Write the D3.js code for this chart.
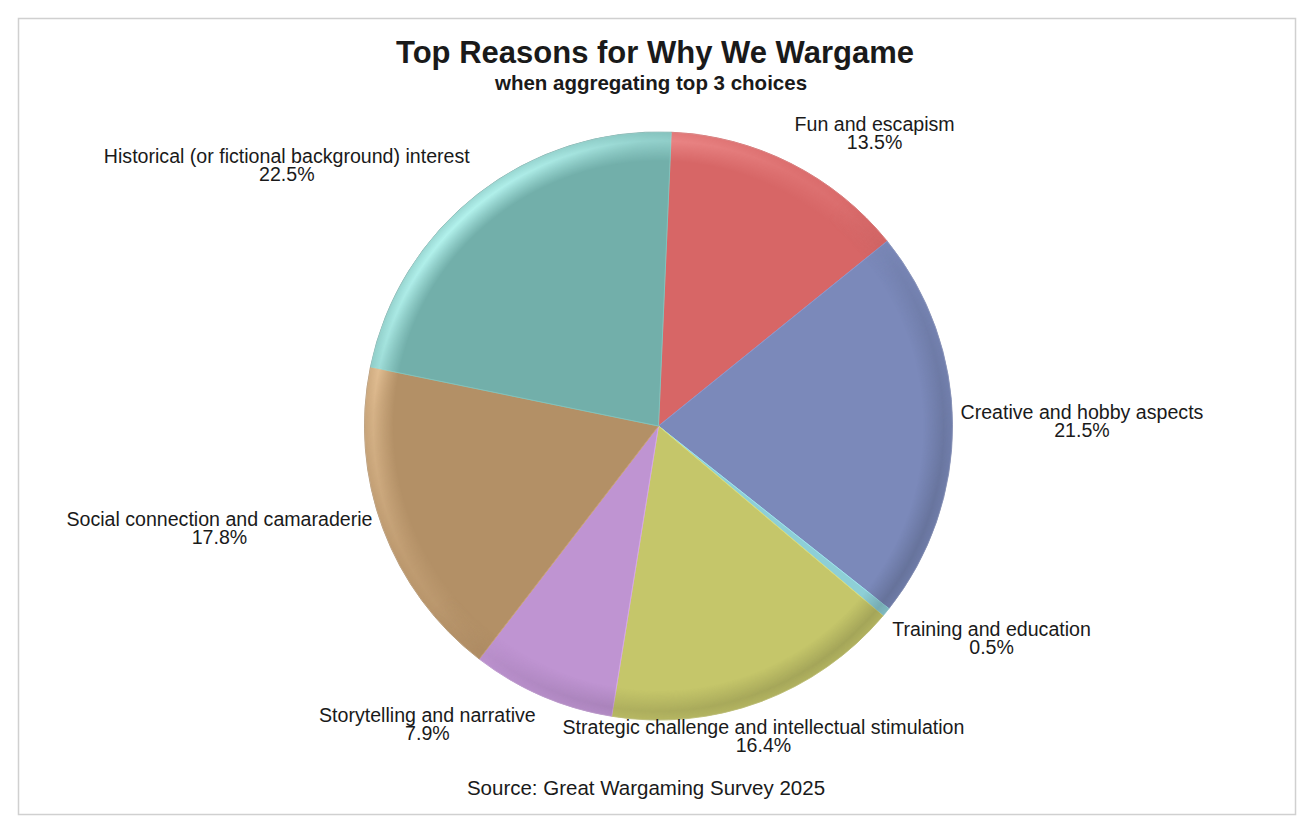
<!DOCTYPE html>
<html>
<head>
<meta charset="utf-8">
<script src="https://cdn.jsdelivr.net/npm/d3@7"></script>
<style>
  body { margin: 0; background: #fff; }
  text { font-family: "Liberation Sans", Arial, sans-serif; fill: #1a1a1a; }
</style>
</head>
<body>
<div id="chart"></div>
<script>
const categories = [
    "Fun and escapism",
    "Creative and hobby aspects",
    "Training and education",
    "Strategic challenge and intellectual stimulation",
    "Storytelling and narrative",
    "Social connection and camaraderie",
    "Historical (or fictional background) interest"
];
const percents = [13.5, 21.5, 0.5, 16.4, 7.9, 17.8, 22.5];
const sliceColors = ["#D76666", "#7B89BA", "#8ECFD6", "#C5C66A", "#BF94D2", "#B39066", "#72AFAA"];

const width = 1299, height = 817;
const cx = 658.5, cy = 426, radius = 294;
const startOffset = 2.5 * Math.PI / 180;

const svg = d3.select("#chart")
    .append("svg")
    .attr("width", width)
    .attr("height", height);

// frame
svg.append("rect")
    .attr("x", 18.5).attr("y", 18.5)
    .attr("width", 1277).attr("height", 796)
    .attr("fill", "#fff")
    .attr("stroke", "#d0d0d0")
    .attr("stroke-width", 1.5);

// titles
svg.append("text")
    .attr("x", 655).attr("y", 63)
    .attr("text-anchor", "middle")
    .attr("font-size", 31).attr("font-weight", "bold")
    .text("Top Reasons for Why We Wargame");
svg.append("text")
    .attr("x", 651).attr("y", 90)
    .attr("text-anchor", "middle")
    .attr("font-size", 20.5).attr("font-weight", "bold")
    .text("when aggregating top 3 choices");
svg.append("text")
    .attr("x", 646).attr("y", 795)
    .attr("text-anchor", "middle")
    .attr("font-size", 20.5)
    .text("Source: Great Wargaming Survey 2025");

const rows = categories.map((c, i) => ({ name: c, value: percents[i], color: sliceColors[i] }));

const pie = d3.pie()
    .value(d => d.value)
    .sort(null)
    .startAngle(startOffset)
    .endAngle(startOffset + 2 * Math.PI);

const arcs = pie(rows);
const arc = d3.arc().innerRadius(0).outerRadius(radius);
const rimArc = d3.arc().innerRadius(radius * 0.86).outerRadius(radius);

const defs = svg.append("defs");

// radial fade: only the outer rim shows
const rg = defs.append("radialGradient")
    .attr("id", "rimFade")
    .attr("gradientUnits", "userSpaceOnUse")
    .attr("cx", cx).attr("cy", cy).attr("r", radius);
rg.append("stop").attr("offset", "90%").attr("stop-color", "#fff").attr("stop-opacity", 0);
rg.append("stop").attr("offset", "97%").attr("stop-color", "#fff").attr("stop-opacity", 1);
rg.append("stop").attr("offset", "100%").attr("stop-color", "#fff").attr("stop-opacity", 0.6);
defs.append("mask")
    .attr("id", "rimMask")
    .attr("maskUnits", "userSpaceOnUse")
    .append("circle")
    .attr("cx", cx).attr("cy", cy).attr("r", radius + 2)
    .attr("fill", "url(#rimFade)");

// direction of light: top-left bright, bottom-right dark
function dirMask(id, stops) {
    const lg = defs.append("linearGradient")
        .attr("id", id + "G")
        .attr("gradientUnits", "userSpaceOnUse")
        .attr("x1", cx - radius * 0.71).attr("y1", cy - radius * 0.71)
        .attr("x2", cx + radius * 0.71).attr("y2", cy + radius * 0.71);
    stops.forEach(s => lg.append("stop").attr("offset", s[0]).attr("stop-color", "#fff").attr("stop-opacity", s[1]));
    defs.append("mask")
        .attr("id", id)
        .attr("maskUnits", "userSpaceOnUse")
        .append("circle")
        .attr("cx", cx).attr("cy", cy).attr("r", radius + 2)
        .attr("fill", `url(#${id}G)`);
}
dirMask("lightMask", [["0%", 1], ["14%", 0.5], ["35%", 0.2], ["55%", 0.04], ["62%", 0]]);
dirMask("darkMask", [["45%", 0], ["70%", 0.45], ["100%", 0.9]]);

const g = svg.append("g").attr("transform", `translate(${cx},${cy})`);

g.selectAll("path.slice")
    .data(arcs)
    .join("path")
    .attr("class", "slice")
    .attr("d", arc)
    .attr("fill", d => d.data.color)
    .attr("stroke", d => d3.color(d.data.color).brighter(0.3))
    .attr("stroke-width", 1);

// rim shading
const lightLayer = svg.append("g").attr("mask", "url(#rimMask)")
    .append("g").attr("mask", "url(#lightMask)")
    .append("g").attr("transform", `translate(${cx},${cy})`);
lightLayer.selectAll("path")
    .data(arcs)
    .join("path")
    .attr("d", rimArc)
    .attr("fill", d => d3.interpolateRgb(d3.color(d.data.color).brighter(0.9), "#fff")(0.25));

const darkLayer = svg.append("g").attr("mask", "url(#rimMask)")
    .append("g").attr("mask", "url(#darkMask)")
    .append("g").attr("transform", `translate(${cx},${cy})`);
darkLayer.selectAll("path")
    .data(arcs)
    .join("path")
    .attr("d", rimArc)
    .attr("fill", d => d3.color(d.data.color).darker(0.6));

svg.append("circle")
    .attr("cx", cx).attr("cy", cy).attr("r", radius)
    .attr("fill", "none")
    .attr("stroke", "#9a9a9a")
    .attr("stroke-opacity", 0.3)
    .attr("stroke-width", 1);

// labels: box corner nearest the pie sits on the mid-angle ray just outside
const labelGap = 8, lineH = 18, fontSize = 19.6, thr = 0.38;
arcs.forEach(d => {
    const a = (d.startAngle + d.endAngle) / 2;
    const s = Math.sin(a), c = -Math.cos(a);
    const px = cx + (radius + labelGap) * s;
    const py = cy + (radius + labelGap) * c;
    const t = svg.append("text")
        .attr("font-size", fontSize)
        .attr("text-anchor", "middle");
    t.append("tspan").attr("x", 0).attr("dy", 0).text(d.data.name);
    t.append("tspan").attr("x", 0).attr("dy", lineH).text(d3.format(".1f")(d.data.value) + "%");
    const w = Math.max(...t.selectAll("tspan").nodes().map(n => n.getComputedTextLength()));
    const h = lineH * 2;
    let bx = px, by = py;
    if (s > thr) bx = px + w / 2; else if (s < -thr) bx = px - w / 2 - 3;
    // by = top of box
    if (c < -thr) by = py - h - 2;
    else if (c > thr) by = py + 6 + (Math.abs(s) <= thr ? 6 : 0);
    else by = py - h / 2;
    t.attr("transform", `translate(${bx},${by + 13})`);
});
</script>
</body>
</html>
